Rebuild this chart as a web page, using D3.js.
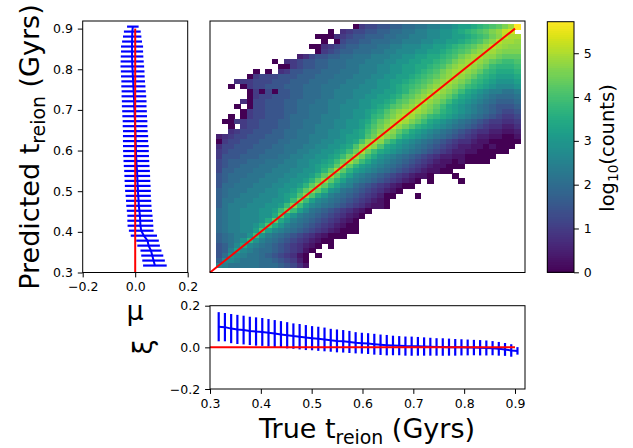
<!DOCTYPE html>
<html>
<head>
<meta charset="utf-8">
<script src="https://cdn.jsdelivr.net/npm/d3@7"></script>
<style>
  body { margin: 0; background: #fff; }
  text { font-family: "DejaVu Sans", sans-serif; }
</style>
</head>
<body>
<div id="chart"></div>
<script>
// ---- data ----
// 2d histogram: 49 x 49 bins over [0.311, 0.911] in both true and predicted t_reion
var histRange = [0.311, 0.911];
var nBins = 49;

// log10(counts) per cell, one string per row, top row (highest predicted) first.
// each char is a level code, looked up in levelValues; "." = empty cell
var levelCodes = "0123456789abcdefghijklmnopqrst";
var levelValues = [0, 0.3, 0.5, 0.8, 1.0, 1.25, 1.5, 1.75, 2.0, 2.2,
                   2.45, 2.7, 2.95, 3.2, 3.45, 3.7, 3.9, 4.1, 4.3, 4.45,
                   4.6, 4.7, 4.8, 4.9, 5.0, 5.1, 5.2, 5.35, 5.55, 5.72];
var rowStart = [22, 18, 16, 17, 15, 16, 13, 9, 10, 6, 5, 3, 2, 5, 5, 4, 3, 4, 2, 1, 2, 2, 0, 0, 0,
                0, 0, 0, 0, 0, 0, 0, 0, 0, 0, 0, 0, 0, 0, 0, 0, 0, 0, 0, 0, 0, 0, 0, 0];
var rowCodes = [
  "045566778899aabbcddefghiknt",
  "0.345566778899aabbccdefghikmqr",
  "000345667778899aaabbccddefghjlqoo",
  "0.05667788899aaabbccddefghjlpnnm",
  "0034567788899aabbbccddefghikmpnmll",
  "04567788899aabbbccddefghikmonlkkk",
  "235667788999aaabbccddeefghjlnomljiii",
  "0.3456677888999aaabbccddeefghjlnomkihggh",
  "0045667788899aaabbccddeefghjlnomkigfffg",
  "0.0.3466777888999aaabbccddefghjlnomkigfeeef",
  "04555666777888999aaabbccddefghikmomkigfeddde",
  "344555666777888999aaabbccddefghikmomkigfedcccd",
  "0.0455666777888999aaabbbccdefghikmomkigfedcbbbc",
  "04050667788899aaabbbccddefhikmpmkigedcbaa99a",
  "04556667788899aaabbccddefhikmpmkigedcba98889",
  "30556667788899aaabbccddefhikmpmkigedcba987778",
  "0.0556667788999aabbbccdefhikmpmkigedcba9876667",
  "04556667788999aabbccdefhjlnpnljhfedcba9876556",
  "0.0455666788899aaabbccdfgiknpnkigfedcba98765445",
  "0044556667788999aabbccdegiknpnkigedcba9876544334",
  "0.455666778899aaabbccdfhjmpmjhfedcba98765433223",
  "34556667788999aabbccdegiloligedcba9876543322112",
  "234556667778899aaabbcddehjoljgedcba98765432211001",
  "045566677788999aabbccdehlolhfdcba9876543321100000",
  "35566677788999aabbccdehlolhedcba9876543221101000",
  "4566677788899aabbccdegjojgedcba9876543221100000",
  "466677788899aabbccdegjnjgecba9876543221100000",
  "56777888999aabbccdegjnjgecba9876543211010000",
  "5677888999aaabbcdefinifdcba9876543211000",
  "577888999aaabbccdfinifdcba987654321100",
  "67888999aaabbccdfimifdba98765432110...0",
  "6788999aaabbccdfimifdba9876543210.0....0",
  "688999aaabbccdfimifdba8765432100",
  "78999aaabbccdfilifcb9876543210",
  "7899aaabbbcdehlheca9876543200...0",
  "799aaabbbccdgkgdba9876543210",
  "79aaabbbccdgkgdba98765432110",
  "89aabbbccdgjgdb9876543210",
  "89aabbbcceieca9876543210",
  "89aabbbceieca9876543210",
  "89aabbceheca98765432100",
  "89aabbdhdba987654321000",
  "789aacgca987654321000",
  "789acfca98765432100",
  "679beba9876543210.0",
  "67adba9887654310",
  "68cba9987654310.0",
  "7bba99988765420",
  "ba9999988876531"
];

// left panel: offset mean and spread per predicted bin (lowest bin first)
var predMean = [0.075, 0.070, 0.065, 0.060, 0.051, 0.047, 0.033, 0.023, 0.020, 0.019,
                0.018, 0.016, 0.014, 0.013, 0.0115, 0.0105, 0.0096, 0.0085, 0.0078, 0.007,
                0.0055, 0.0045, 0.0035, 0.0028, 0.0026, 0.0013, 0.0013, 0.0006, -0.0006, -0.0006,
                -0.002, -0.0026, -0.0038, -0.0038, -0.005, -0.0057, -0.007, -0.0077, -0.009, -0.0096,
                -0.011, -0.0115, -0.012, -0.012, -0.012, -0.012, -0.0115, -0.011, -0.009];
var predErr = [0.045, 0.043, 0.042, 0.040, 0.043, 0.043, 0.050, 0.047, 0.049, 0.049,
               0.048, 0.048, 0.048, 0.048, 0.048, 0.049, 0.049, 0.049, 0.049, 0.049,
               0.049, 0.049, 0.049, 0.049, 0.049, 0.048, 0.048, 0.047, 0.047, 0.047,
               0.047, 0.047, 0.047, 0.047, 0.047, 0.046, 0.046, 0.045, 0.045, 0.045,
               0.045, 0.044, 0.043, 0.042, 0.042, 0.038, 0.035, 0.032, 0.022];

// bottom panel: offset mean and spread per true bin (lowest bin first)
var trueMean = [0.099, 0.097, 0.090, 0.086, 0.083, 0.079, 0.076, 0.074, 0.070, 0.066,
                0.062, 0.058, 0.054, 0.051, 0.047, 0.044, 0.041, 0.038, 0.034, 0.031,
                0.029, 0.026, 0.022, 0.020, 0.018, 0.015, 0.0125, 0.0105, 0.009, 0.008,
                0.006, 0.0056, 0.005, 0.004, 0.003, 0.002, 0.0016, 0.001, 0.0, 0.0,
                -0.0005, -0.001, -0.002, -0.003, -0.004, -0.007, -0.010, -0.015, -0.017];
var trueErr = [0.070, 0.068, 0.070, 0.070, 0.069, 0.068, 0.068, 0.067, 0.066, 0.065,
               0.064, 0.063, 0.061, 0.061, 0.060, 0.058, 0.058, 0.057, 0.055, 0.055,
               0.054, 0.053, 0.051, 0.050, 0.050, 0.050, 0.049, 0.049, 0.047, 0.046,
               0.046, 0.046, 0.045, 0.044, 0.043, 0.042, 0.042, 0.041, 0.040, 0.039,
               0.038, 0.037, 0.037, 0.036, 0.034, 0.033, 0.031, 0.030, 0.018];

var tTicks = [0.3, 0.4, 0.5, 0.6, 0.7, 0.8, 0.9];
var diffTicks = [-0.2, 0.0, 0.2];
var cbTicks = [0, 1, 2, 3, 4, 5];
var cbMax = 5.72;
var oneToOne = [0.3, 0.9];

// ---- layout ----
var svgWidth = 633, svgHeight = 448;
var main = {left: 210, right: 525, top: 21, bottom: 272.5};
var side = {left: 82.7, right: 187.7, top: 21, bottom: 272.5};
var bot = {left: 210, right: 525, top: 305.7, bottom: 389};
var cbar = {left: 547.3, right: 574, top: 21.7, bottom: 272.3};
var tickLen = 4.9, tickPad = 4.9;
var tickFont = 12.5, bigFont = 27;

var svg = d3.select("#chart").append("svg")
  .attr("width", svgWidth)
  .attr("height", svgHeight);

var xTrue = d3.scaleLinear().domain([0.3, 0.9197]).range([main.left, main.right]);
var yPred = d3.scaleLinear().domain([0.3, 0.9187]).range([main.bottom, main.top]);
var xDiff = d3.scaleLinear().domain([-0.2, 0.2]).range([side.left, side.right]);
var yDiff = d3.scaleLinear().domain([-0.2, 0.2]).range([bot.bottom, bot.top]);
var cScale = d3.scaleLinear().domain([0, cbMax]).range([cbar.bottom, cbar.top]);
var colour = function(v) { return d3.interpolateViridis(Math.min(v, cbMax) / cbMax); };

var binW = (histRange[1] - histRange[0]) / nBins;
var centres = d3.range(nBins).map(function(i) { return histRange[0] + binW * (i + 0.5); });

// ---- heatmap cells ----
var cells = [];
rowCodes.forEach(function(str, r) {
  var yi = nBins - 1 - r;
  for (var k = 0; k < str.length; k++) {
    var ch = str[k];
    var xi = rowStart[r] + k;
    if (ch === "." || xi >= nBins) continue;
    cells.push({xi: xi, yi: yi, v: levelValues[levelCodes.indexOf(ch)]});
  }
});

svg.append("g").attr("shape-rendering", "crispEdges")
  .selectAll("rect")
  .data(cells)
  .enter()
  .append("rect")
  .attr("x", d => xTrue(histRange[0] + d.xi * binW))
  .attr("y", d => yPred(histRange[0] + (d.yi + 1) * binW))
  .attr("width", d => xTrue(histRange[0] + (d.xi + 1) * binW) - xTrue(histRange[0] + d.xi * binW) + 0.4)
  .attr("height", d => yPred(histRange[0] + d.yi * binW) - yPred(histRange[0] + (d.yi + 1) * binW) + 0.4)
  .attr("fill", d => colour(d.v));

// one-to-one line
svg.append("line")
  .attr("x1", xTrue(oneToOne[0])).attr("y1", yPred(oneToOne[0]))
  .attr("x2", xTrue(oneToOne[1])).attr("y2", yPred(oneToOne[1]))
  .attr("stroke", "#ff0000").attr("stroke-width", 2);

// ---- left panel: horizontal error bars ----
var leftG = svg.append("g");
leftG.selectAll("line.err")
  .data(centres)
  .enter()
  .append("line")
  .attr("class", "err")
  .attr("x1", (d, i) => xDiff(predMean[i] - predErr[i]))
  .attr("x2", (d, i) => xDiff(predMean[i] + predErr[i]))
  .attr("y1", d => yPred(d))
  .attr("y2", d => yPred(d))
  .attr("stroke", "#0000ff").attr("stroke-width", 2.2);

leftG.append("path")
  .datum(centres)
  .attr("fill", "none").attr("stroke", "#0000ff").attr("stroke-width", 2)
  .attr("d", d3.line().x((d, i) => xDiff(predMean[i])).y(d => yPred(d)));

leftG.append("line")
  .attr("x1", xDiff(0)).attr("x2", xDiff(0))
  .attr("y1", yPred(oneToOne[0])).attr("y2", yPred(oneToOne[1]))
  .attr("stroke", "#ff0000").attr("stroke-width", 2);

// ---- bottom panel: vertical error bars ----
var botG = svg.append("g");
botG.selectAll("line.err")
  .data(centres)
  .enter()
  .append("line")
  .attr("class", "err")
  .attr("x1", d => xTrue(d))
  .attr("x2", d => xTrue(d))
  .attr("y1", (d, i) => yDiff(trueMean[i] - trueErr[i]))
  .attr("y2", (d, i) => yDiff(trueMean[i] + trueErr[i]))
  .attr("stroke", "#0000ff").attr("stroke-width", 2.2);

botG.append("path")
  .datum(centres)
  .attr("fill", "none").attr("stroke", "#0000ff").attr("stroke-width", 2)
  .attr("d", d3.line().x(d => xTrue(d)).y((d, i) => yDiff(trueMean[i])));

botG.append("line")
  .attr("x1", xTrue(oneToOne[0])).attr("x2", xTrue(oneToOne[1]))
  .attr("y1", yDiff(0)).attr("y2", yDiff(0))
  .attr("stroke", "#ff0000").attr("stroke-width", 2);

// ---- colorbar ----
var cbSteps = d3.range(0, 120);
svg.append("g").attr("shape-rendering", "crispEdges")
  .selectAll("rect")
  .data(cbSteps)
  .enter()
  .append("rect")
  .attr("x", cbar.left)
  .attr("width", cbar.right - cbar.left)
  .attr("y", d => cScale(cbMax * (d + 1) / cbSteps.length))
  .attr("height", d => cScale(cbMax * d / cbSteps.length) - cScale(cbMax * (d + 1) / cbSteps.length) + 0.6)
  .attr("fill", d => colour(cbMax * (d + 0.5) / cbSteps.length));

// ---- frames ----
[main, side, bot, cbar].forEach(function(b) {
  svg.append("rect")
    .attr("x", b.left).attr("y", b.top)
    .attr("width", b.right - b.left).attr("height", b.bottom - b.top)
    .attr("fill", "none").attr("stroke", "#000").attr("stroke-width", 1);
});

// ---- axes ----
function styleAxis(g) {
  g.select(".domain").remove();
  g.selectAll("line").attr("stroke", "#000").attr("stroke-width", 1);
  g.selectAll("text")
    .attr("font-family", "DejaVu Sans, sans-serif")
    .attr("font-size", tickFont)
    .attr("fill", "#000");
}
var f1 = d3.format(".1f");

svg.append("g")
  .attr("transform", `translate(${side.left},0)`)
  .call(d3.axisLeft(yPred).tickValues(tTicks).tickFormat(f1).tickSize(tickLen).tickPadding(tickPad))
  .call(styleAxis);

svg.append("g")
  .attr("transform", `translate(0,${side.bottom})`)
  .call(d3.axisBottom(xDiff).tickValues(diffTicks).tickFormat(f1).tickSize(tickLen).tickPadding(tickPad))
  .call(styleAxis);

svg.append("g")
  .attr("transform", `translate(${bot.left},0)`)
  .call(d3.axisLeft(yDiff).tickValues(diffTicks).tickFormat(f1).tickSize(tickLen).tickPadding(tickPad))
  .call(styleAxis);

svg.append("g")
  .attr("transform", `translate(0,${bot.bottom})`)
  .call(d3.axisBottom(xTrue).tickValues(tTicks).tickFormat(f1).tickSize(tickLen).tickPadding(tickPad))
  .call(styleAxis);

svg.append("g")
  .attr("transform", `translate(${cbar.right},0)`)
  .call(d3.axisRight(cScale).tickValues(cbTicks).tickFormat(d3.format("d")).tickSize(tickLen).tickPadding(tickPad))
  .call(styleAxis);

// ---- labels ----
function subLabel(parent, pre, sub, post, size) {
  var t = parent.append("text")
    .attr("text-anchor", "middle")
    .attr("font-size", size)
    .attr("fill", "#000");
  var shift = size * 0.22;
  t.append("tspan").text(pre);
  t.append("tspan").attr("font-size", size * 0.7).attr("dy", shift).text(sub);
  t.append("tspan").attr("dy", -shift).text(post);
  return t;
}

var yLab = svg.append("g").attr("transform", "translate(39,147) rotate(-90)");
subLabel(yLab, "Predicted t", "reion", " (Gyrs)", bigFont);

var xLab = svg.append("g").attr("transform", "translate(367,438)");
subLabel(xLab, "True t", "reion", " (Gyrs)", bigFont);

var cLab = svg.append("g").attr("transform", "translate(614,148) rotate(-90)");
subLabel(cLab, "log", "10", "(counts)", 19.5);

svg.append("text")
  .attr("x", 135).attr("y", 320)
  .attr("text-anchor", "middle")
  .attr("font-size", bigFont)
  .text("μ");

svg.append("text")
  .attr("transform", "translate(152,347) rotate(-90)")
  .attr("text-anchor", "middle")
  .attr("font-size", bigFont)
  .text("ξ");
</script>
</body>
</html>
